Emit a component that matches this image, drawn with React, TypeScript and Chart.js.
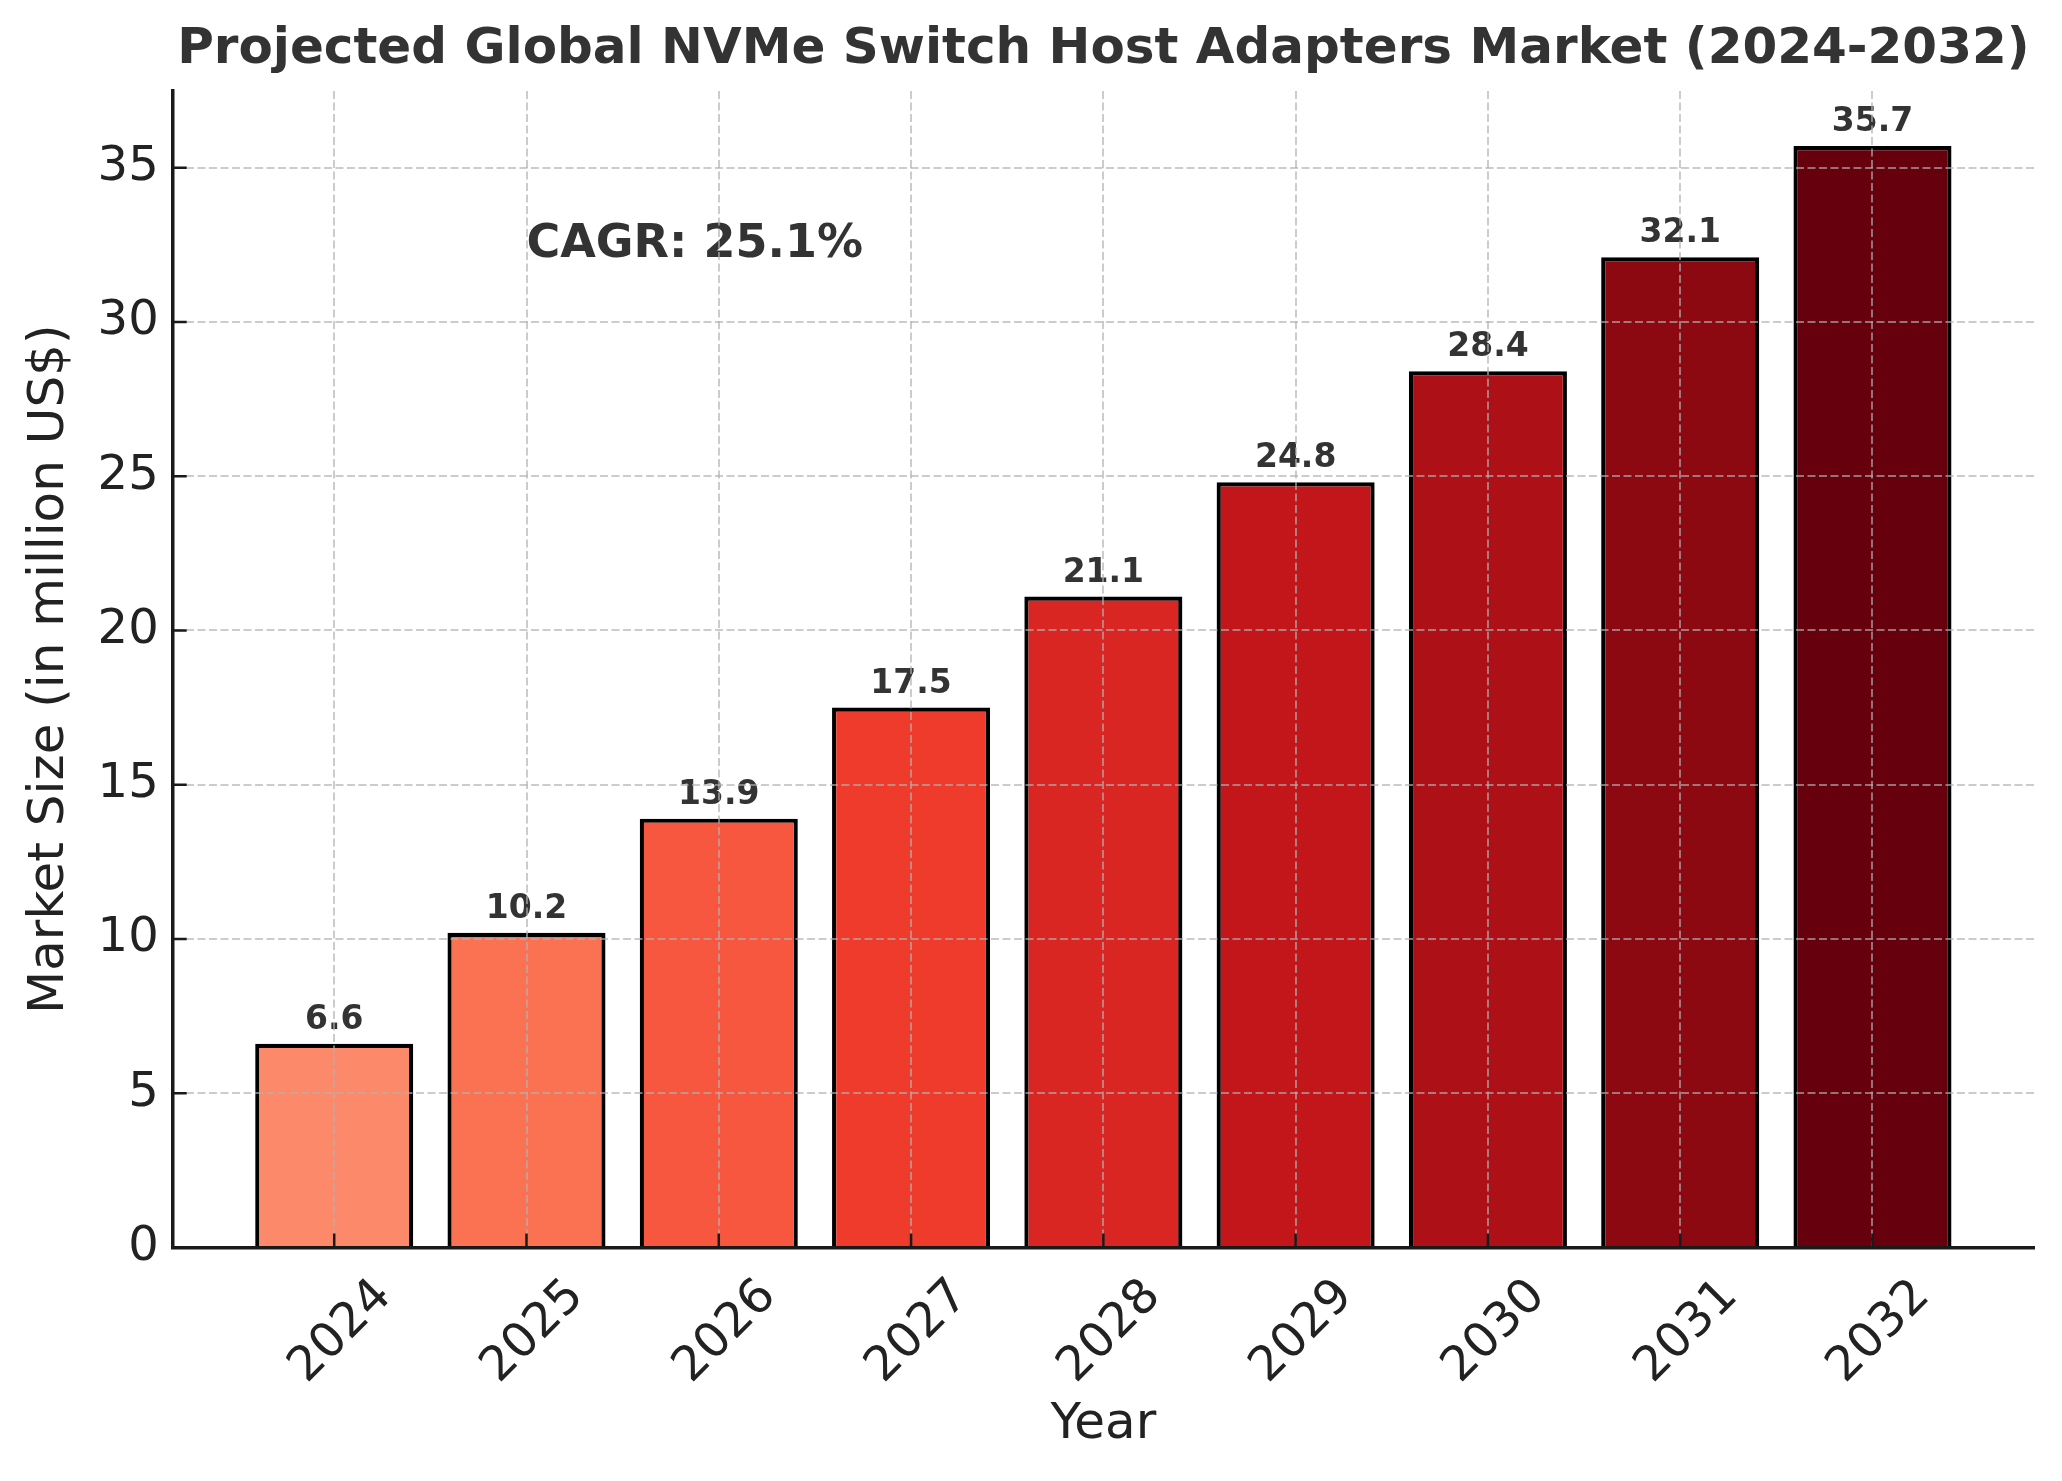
import React, { useEffect, useRef } from "react";
import { Chart, registerables } from "chart.js";

Chart.register(...registerables);

// ---- data ----
const years = ["2024", "2025", "2026", "2027", "2028", "2029", "2030", "2031", "2032"];
const marketSize = [6.6, 10.2, 13.9, 17.5, 21.1, 24.8, 28.4, 32.1, 35.7];
const barColors = [
  "#fc8a6a", "#fb7252", "#f6573e", "#ef3b2c", "#d92623",
  "#c3161b", "#ad1117", "#8c0912", "#67000d",
];
const yStep = 5;
const yMax = 37.485;
const xMin = -0.84;
const xMax = 8.84;
const titleText = "Projected Global NVMe Switch Host Adapters Market (2024-2032)";
const xTitle = "Year";
const yTitle = "Market Size (in million US$)";
const cagrText = "CAGR: 25.1%";
const cagrAt = { x: 1, y: 32.1 };

const FONT = "'DejaVu Sans', sans-serif";

const overlayPlugin = {
  id: "overlay",
  afterDatasetsDraw(chart: any) {
    const ctx = chart.ctx;
    const meta = chart.getDatasetMeta(0);
    ctx.save();
    ctx.fillStyle = "#333333";
    ctx.font = `bold 33px ${FONT}`;
    ctx.textAlign = "center";
    ctx.textBaseline = "alphabetic";
    meta.data.forEach((bar: any, i: number) => {
      ctx.fillText(marketSize[i].toFixed(1), bar.x, bar.y - 15);
    });
    const xs = chart.scales.x;
    const ys = chart.scales.y;
    ctx.font = `bold 46px ${FONT}`;
    ctx.textAlign = "left";
    ctx.fillText(cagrText, xs.getPixelForValue(cagrAt.x), ys.getPixelForValue(cagrAt.y));
    ctx.restore();
  },
  afterDraw(chart: any) {
    const ctx = chart.ctx;
    const { left, bottom } = chart.chartArea;
    const xs = chart.scales.x;
    const ys = chart.scales.y;
    ctx.save();
    ctx.strokeStyle = "#1a1a1a";
    ctx.lineWidth = 2.5;
    ctx.beginPath();
    ys.ticks.forEach((t: any) => {
      const p = ys.getPixelForValue(t.value);
      ctx.moveTo(left, p);
      ctx.lineTo(left + 14, p);
    });
    xs.ticks.forEach((t: any) => {
      const p = xs.getPixelForValue(t.value);
      ctx.moveTo(p, bottom);
      ctx.lineTo(p, bottom - 14);
    });
    ctx.stroke();
    ctx.restore();
  },
};

export default function App() {
  const canvasRef = useRef<HTMLCanvasElement | null>(null);

  useEffect(() => {
    const canvas = canvasRef.current;
    if (!canvas) return;
    const gridColor = "rgba(176,176,176,0.65)";
    const chart = new Chart(canvas, {
      type: "bar",
      data: {
        datasets: [
          {
            data: marketSize.map((v, i) => ({ x: i, y: v })),
            backgroundColor: barColors,
            borderColor: "#000000",
            borderWidth: 4.2,
            borderSkipped: "start",
            categoryPercentage: 1,
            barPercentage: 0.822,
          } as any,
        ],
      },
      options: {
        responsive: false,
        animation: false,
        devicePixelRatio: 1,
        layout: { padding: { left: 0, right: 28, top: 0, bottom: 0 } },
        plugins: {
          legend: { display: false },
          tooltip: { enabled: false },
          title: {
            display: true,
            text: titleText,
            fullSize: false,
            color: "#333333",
            font: { family: FONT, size: 50, weight: "bold", lineHeight: 1.2 },
            padding: { top: 20, bottom: 11 },
          },
        },
        scales: {
          x: {
            type: "linear",
            min: xMin,
            max: xMax,
            offset: false,
            afterFit: (s: any) => {
              s.height = 233.5;
            },
            grid: { offset: false, drawTicks: false, color: gridColor, lineWidth: 2, z: 1 },
            border: { display: true, color: "#1a1a1a", width: 3.5, dash: [8, 3.5], z: 2 },
            ticks: {
              stepSize: 1,
              includeBounds: false,
              autoSkip: false,
              minRotation: 45,
              maxRotation: 45,
              labelOffset: 50,
              padding: 21,
              color: "#222222",
              font: { family: FONT, size: 48 },
              callback: (v: any) => years[v as number] ?? "",
            },
            title: {
              display: true,
              text: xTitle,
              color: "#222222",
              font: { family: FONT, size: 50, lineHeight: 1.2 },
              padding: { top: 0, bottom: 26 },
            },
          },
          y: {
            type: "linear",
            min: 0,
            max: yMax,
            afterFit: (s: any) => {
              s.width = 172.7;
            },
            grid: { drawTicks: false, color: gridColor, lineWidth: 2, z: 1 },
            border: { display: true, color: "#1a1a1a", width: 3.5, dash: [8, 3.5], z: 2 },
            ticks: {
              stepSize: yStep,
              includeBounds: false,
              padding: 14,
              color: "#222222",
              font: { family: FONT, size: 48 },
            },
            title: {
              display: true,
              text: yTitle,
              color: "#222222",
              font: { family: FONT, size: 50, lineHeight: 1.2 },
              padding: { top: 20, bottom: 0 },
            },
          },
        },
      } as any,
      plugins: [overlayPlugin],
    });
    return () => chart.destroy();
  }, []);

  return (
    <div style={{ position: "absolute", left: 0, top: 0, width: 2062, height: 1481, background: "#fff" }}>
      <canvas ref={canvasRef} width={2062} height={1481} style={{ display: "block", width: 2062, height: 1481 }} />
    </div>
  );
}
